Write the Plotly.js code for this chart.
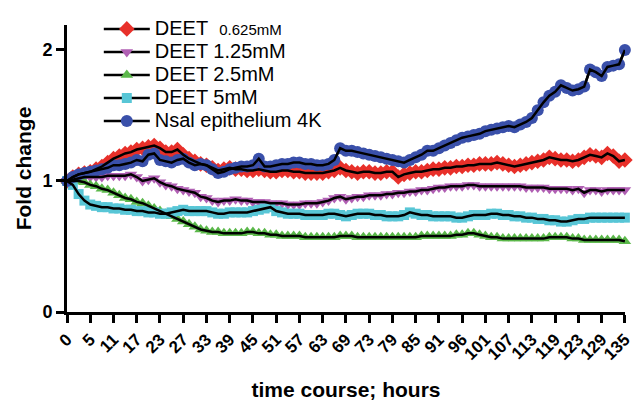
<!DOCTYPE html>
<html>
<head>
<meta charset="utf-8">
<script src="https://cdn.plot.ly/plotly-3.0.1.min.js"></script>
<style>html,body{margin:0;padding:0;background:#fff;}#chart{width:633px;height:401px;}</style>
</head>
<body>
<div id="chart"></div>
<script>
// Tick labels (hours) shown at every 4th time point
const tickLabels = ['0','5','11','17','23','27','33','39','45','51','57','63','69','73','79','85','91','96','101','107','113','119','123','129','135'];

const deet0625 = [1.00,1.03,1.05,1.06,1.07,1.09,1.11,1.14,1.17,1.19,1.21,1.22,1.24,1.25,1.26,1.27,1.25,1.22,1.22,1.24,
  1.20,1.17,1.15,1.13,1.12,1.10,1.08,1.09,1.10,1.09,1.09,1.08,1.08,1.09,1.08,1.07,1.07,1.08,1.08,1.07,
  1.07,1.06,1.06,1.06,1.06,1.07,1.08,1.10,1.08,1.07,1.06,1.07,1.07,1.06,1.06,1.07,1.07,1.03,1.05,1.06,
  1.07,1.07,1.08,1.09,1.09,1.10,1.10,1.11,1.11,1.12,1.12,1.13,1.13,1.13,1.14,1.13,1.12,1.11,1.12,1.13,
  1.14,1.15,1.16,1.18,1.17,1.16,1.16,1.15,1.16,1.18,1.20,1.19,1.18,1.21,1.19,1.15,1.16];

const deet125 = [1.00,1.01,1.02,1.03,1.03,1.03,1.03,1.04,1.04,1.04,1.04,1.05,1.03,1.00,1.01,1.02,0.99,0.97,0.96,0.94,
  0.93,0.92,0.91,0.88,0.87,0.85,0.84,0.85,0.85,0.86,0.85,0.85,0.84,0.84,0.84,0.83,0.83,0.83,0.82,0.82,
  0.82,0.83,0.83,0.83,0.84,0.85,0.87,0.88,0.86,0.87,0.88,0.88,0.89,0.89,0.89,0.90,0.90,0.91,0.91,0.92,
  0.92,0.93,0.93,0.94,0.95,0.95,0.96,0.96,0.96,0.97,0.97,0.96,0.96,0.96,0.96,0.96,0.96,0.96,0.96,0.95,
  0.95,0.95,0.95,0.94,0.94,0.94,0.94,0.93,0.94,0.91,0.93,0.93,0.92,0.93,0.93,0.93,0.93];

const deet25 = [1.00,1.00,1.00,0.99,0.97,0.96,0.94,0.93,0.91,0.89,0.87,0.86,0.84,0.83,0.81,0.79,0.77,0.75,0.73,0.71,
  0.69,0.67,0.65,0.63,0.62,0.61,0.61,0.60,0.60,0.60,0.60,0.61,0.61,0.60,0.60,0.59,0.59,0.58,0.58,0.58,
  0.58,0.57,0.57,0.57,0.57,0.57,0.57,0.58,0.58,0.58,0.57,0.57,0.57,0.57,0.57,0.57,0.57,0.57,0.57,0.57,
  0.57,0.58,0.58,0.58,0.58,0.58,0.58,0.59,0.59,0.60,0.60,0.59,0.58,0.57,0.57,0.56,0.56,0.56,0.56,0.56,
  0.56,0.56,0.56,0.57,0.57,0.57,0.57,0.56,0.56,0.55,0.55,0.55,0.55,0.55,0.55,0.55,0.54];

const deet5 = [1.00,0.97,0.90,0.85,0.82,0.81,0.80,0.80,0.79,0.79,0.78,0.78,0.77,0.77,0.76,0.76,0.75,0.75,0.76,0.77,
  0.78,0.77,0.77,0.77,0.77,0.76,0.75,0.75,0.76,0.76,0.76,0.76,0.77,0.78,0.79,0.80,0.77,0.76,0.75,0.75,
  0.75,0.74,0.74,0.74,0.74,0.75,0.75,0.74,0.73,0.74,0.75,0.75,0.75,0.74,0.74,0.73,0.73,0.73,0.74,0.76,
  0.75,0.74,0.74,0.73,0.73,0.73,0.73,0.72,0.72,0.73,0.74,0.74,0.74,0.75,0.75,0.74,0.74,0.73,0.73,0.72,
  0.72,0.71,0.71,0.70,0.70,0.69,0.69,0.70,0.71,0.71,0.72,0.72,0.72,0.72,0.72,0.72,0.72];

const nsal4k = [1.00,1.03,1.05,1.06,1.07,1.08,1.09,1.10,1.12,1.12,1.13,1.14,1.16,1.15,1.20,1.21,1.16,1.15,1.14,1.16,
  1.17,1.14,1.12,1.13,1.12,1.09,1.06,1.07,1.09,1.10,1.11,1.11,1.12,1.17,1.11,1.11,1.12,1.13,1.13,1.14,
  1.14,1.13,1.13,1.12,1.12,1.13,1.16,1.25,1.23,1.23,1.22,1.21,1.20,1.19,1.18,1.17,1.16,1.15,1.14,1.16,
  1.18,1.20,1.23,1.23,1.25,1.27,1.29,1.31,1.33,1.34,1.35,1.36,1.38,1.39,1.40,1.41,1.42,1.41,1.43,1.45,
  1.48,1.54,1.60,1.65,1.68,1.73,1.71,1.69,1.70,1.72,1.85,1.83,1.80,1.87,1.88,1.89,2.00];

const seriesNames = [
  '<span style="font-size:20px">DEET\u00a0\u00a0</span><span style="font-size:15px">0.625mM</span>',
  '<span style="font-size:20px">DEET 1.25mM</span>',
  '<span style="font-size:20px">DEET 2.5mM</span>',
  '<span style="font-size:20px">DEET 5mM</span>',
  '<span style="font-size:20px">Nsal epithelium 4K</span>'
];
const seriesColors = ['#e8302a','#b05fb3','#5bb84a','#58c6d6','#3a50aa'];
const seriesSymbols = ['diamond','triangle-down','triangle-up','square','circle'];
const seriesSizes = [12,11,11,10,12];
const seriesData = [deet0625, deet125, deet25, deet5, nsal4k];

const xIdx = deet0625.map((_, i) => i);
const tickVals = tickLabels.map((_, i) => i * 4);

const traces = [];
seriesData.forEach((ys, k) => {
  traces.push({
    x: xIdx, y: ys, type: 'scatter', mode: 'lines+markers', name: seriesNames[k],
    line: {color: '#000', width: 2.5},
    marker: {color: seriesColors[k], symbol: seriesSymbols[k], size: seriesSizes[k], line: {width: 0}},
    cliponaxis: false
  });
});
seriesData.forEach((ys, k) => {
  traces.push({
    x: xIdx, y: ys, type: 'scatter', mode: 'lines', showlegend: false, hoverinfo: 'skip',
    line: {color: '#000', width: 2.5}, cliponaxis: false
  });
});

const fontFam = 'Liberation Sans, Arial, sans-serif';
const layout = {
  width: 633, height: 401,
  margin: {l: 67, r: 8, t: 25, b: 89},
  paper_bgcolor: '#fff', plot_bgcolor: '#fff',
  showlegend: true,
  legend: {x: 0.057, y: 1.044, xanchor: 'left', yanchor: 'top', bgcolor: 'rgba(0,0,0,0)',
           font: {family: fontFam, size: 15.4, color: '#000'}, itemwidth: 46},
  xaxis: {
    range: [0, 96.02], showgrid: false, zeroline: false,
    showline: true, linecolor: '#000', linewidth: 3,
    ticks: 'outside', ticklen: 8, tickwidth: 3, tickcolor: '#000',
    tickmode: 'array', tickvals: tickVals, ticktext: tickLabels, tickangle: -45,
    ticklabeloverflow: 'allow',
    tickfont: {family: fontFam, size: 17, color: '#000', weight: 'bold'},
    title: {text: 'time course; hours', font: {family: fontFam, size: 21, color: '#000', weight: 'bold'}, standoff: 24}
  },
  yaxis: {
    range: [0, 2.19], showgrid: false, zeroline: false,
    showline: true, linecolor: '#000', linewidth: 3,
    ticks: 'outside', ticklen: 8, tickwidth: 3, tickcolor: '#000',
    tickmode: 'array', tickvals: [0, 1, 2], ticktext: ['0', '1', '2'],
    tickfont: {family: fontFam, size: 18, color: '#000', weight: 'bold'},
    title: {text: 'Fold change', font: {family: fontFam, size: 21, color: '#000', weight: 'bold'}, standoff: 6}
  }
};

Plotly.newPlot('chart', traces, layout, {displayModeBar: false, staticPlot: true});
</script>
</body>
</html>
